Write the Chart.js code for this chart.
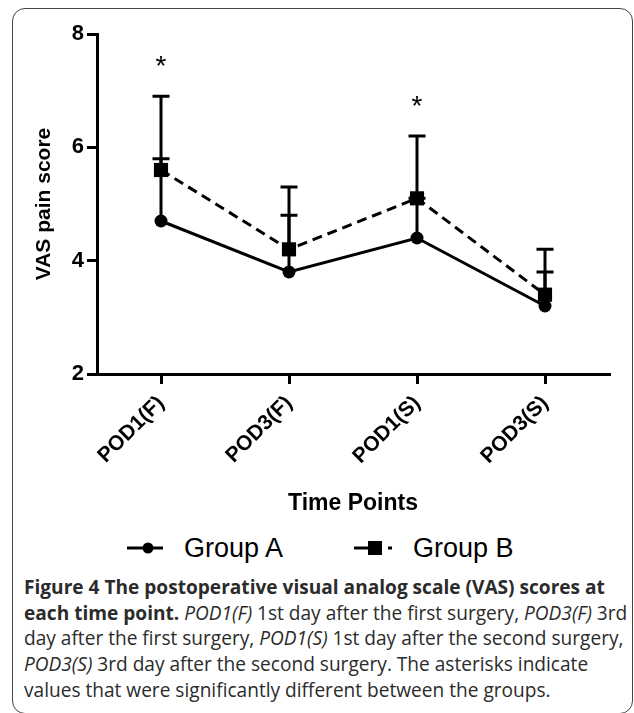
<!DOCTYPE html>
<html>
<head>
<meta charset="utf-8">
<script src="https://cdn.jsdelivr.net/npm/chart.js@4.4.1/dist/chart.umd.min.js"></script>
<style>
  html, body { margin: 0; padding: 0; background: #fff; }
  body { width: 634px; height: 713px; position: relative; overflow: hidden; }
  #frame {
    position: absolute; left: 12px; top: 8px; width: 621px; height: 706px;
    box-sizing: border-box; border: 1.5px solid #444; border-radius: 13px;
  }
  #vasChart { position: absolute; left: 0; top: 0; }
  #chart-legend {
    position: absolute; left: 127px; top: 530px; height: 36px;
    display: flex; align-items: center;
    font-family: "Liberation Sans", Arial, sans-serif; font-size: 27px; color: #000;
  }
  .legend-item { display: flex; align-items: center; margin-right: 71px; }
  .legend-item canvas { margin-right: 21px; }
  #caption {
    position: absolute; left: 24px; top: 575px;
    font-family: "Open Sans", "Noto Sans", sans-serif; font-size: 19.1px;
    line-height: 25.7px; color: #2b2b2b; white-space: nowrap;
  }
  #caption b { font-weight: 700; }
  #caption i { font-style: italic; }
</style>
</head>
<body>
<div id="frame"></div>
<canvas id="vasChart" width="634" height="525"></canvas>
<div id="chart-legend"></div>
<div id="caption">
  <b>Figure 4 The postoperative visual analog scale (VAS) scores at</b><br>
  <b>each time point.</b> <i>POD1(F)</i> 1st day after the first surgery, <i>POD3(F)</i> 3rd<br>
  day after the first surgery, <i>POD1(S)</i> 1st day after the second surgery,<br>
  <i>POD3(S)</i> 3rd day after the second surgery. The asterisks indicate<br>
  values that were significantly different between the groups.
</div>
<script>
// Values (means and upper SD bars)
const timePoints = ['POD1(F)', 'POD3(F)', 'POD1(S)', 'POD3(S)'];
const groupAMean = [4.7, 3.8, 4.4, 3.2];
const groupASd = [1.1, 1.0, 0.7, 0.6];
const groupBMean = [5.6, 4.2, 5.1, 3.4];
const groupBSd = [1.3, 1.1, 1.1, 0.8];
const significant = [true, false, true, false];
const yTickValues = [2, 4, 6, 8];

const axisFont = "'Liberation Sans', Arial, sans-serif";

// upper-only error bars, drawn under the markers
const errorBarPlugin = {
    id: 'errorBars',
    beforeDatasetsDraw(chart) {
        const ctx = chart.ctx;
        const yScale = chart.scales.y;
        ctx.save();
        ctx.strokeStyle = '#000';
        ctx.lineWidth = 3;
        chart.data.datasets.forEach((ds, di) => {
            const meta = chart.getDatasetMeta(di);
            meta.data.forEach((pt, i) => {
                const top = yScale.getPixelForValue(ds.data[i] + ds.sd[i]);
                const base = yScale.getPixelForValue(ds.data[i]);
                ctx.beginPath();
                ctx.moveTo(pt.x, base);
                ctx.lineTo(pt.x, top);
                ctx.moveTo(pt.x - 8.5, top);
                ctx.lineTo(pt.x + 8.5, top);
                ctx.stroke();
            });
        });
        ctx.restore();
    }
};

// asterisks above the higher bar where groups differ
const asteriskPlugin = {
    id: 'asterisks',
    afterDatasetsDraw(chart) {
        const ctx = chart.ctx;
        const yScale = chart.scales.y;
        const meta = chart.getDatasetMeta(1);
        ctx.save();
        ctx.fillStyle = '#000';
        ctx.font = '28px ' + axisFont;
        ctx.textAlign = 'center';
        ctx.textBaseline = 'alphabetic';
        significant.forEach((sig, i) => {
            if (!sig) return;
            const top = yScale.getPixelForValue(groupBMean[i] + groupBSd[i]);
            ctx.fillText('*', meta.data[i].x, top - 21);
        });
        ctx.restore();
    }
};

const ctx = document.getElementById('vasChart').getContext('2d');
const vasChart = new Chart(ctx, {
    type: 'line',
    data: {
        labels: timePoints,
        datasets: [
            {
                label: 'Group A',
                data: groupAMean,
                sd: groupASd,
                borderColor: '#000',
                backgroundColor: '#000',
                borderWidth: 3,
                pointStyle: 'circle',
                pointRadius: 6.5,
                pointBackgroundColor: '#000',
                pointBorderWidth: 0,
                tension: 0
            },
            {
                label: 'Group B',
                data: groupBMean,
                sd: groupBSd,
                borderColor: '#000',
                backgroundColor: '#000',
                borderWidth: 3,
                borderDash: [10, 6],
                pointStyle: 'rect',
                pointRadius: 10,
                pointBackgroundColor: '#000',
                pointBorderWidth: 0,
                tension: 0
            }
        ]
    },
    options: {
        responsive: false,
        animation: false,
        devicePixelRatio: 1,
        layout: { padding: { top: 34, right: 25, bottom: 6, left: 0 } },
        plugins: {
            legend: { display: false },
            tooltip: { enabled: false }
        },
        scales: {
            x: {
                type: 'category',
                offset: true,
                grid: {
                    display: true,
                    drawOnChartArea: false,
                    drawTicks: true,
                    tickLength: 10,
                    lineWidth: 3,
                    color: '#000',
                    offset: false
                },
                border: { display: true, width: 3, color: '#000' },
                ticks: {
                    color: '#000',
                    font: { family: axisFont, size: 21, weight: 'bold' },
                    minRotation: 45,
                    maxRotation: 45,
                    padding: 7
                },
                title: {
                    display: true,
                    text: 'Time Points',
                    color: '#000',
                    font: { family: axisFont, size: 23, weight: 'bold' },
                    padding: { top: 0, bottom: 2 }
                },
                afterFit(scale) { scale.height = 145; }
            },
            y: {
                min: 2,
                max: 8,
                grid: {
                    display: true,
                    drawOnChartArea: false,
                    drawTicks: true,
                    tickLength: 10,
                    lineWidth: 3,
                    color: '#000'
                },
                border: { display: true, width: 3, color: '#000' },
                ticks: {
                    color: '#000',
                    font: { family: axisFont, size: 22, weight: 'bold' },
                    padding: 3
                },
                afterBuildTicks(scale) {
                    scale.ticks = yTickValues.map(v => ({ value: v }));
                },
                title: {
                    display: true,
                    text: 'VAS pain score',
                    color: '#000',
                    font: { family: axisFont, size: 21, weight: 'bold' },
                    padding: { top: 32, bottom: 0 }
                },
                afterFit(scale) { scale.width = 97; }
            }
        }
    },
    plugins: [errorBarPlugin, asteriskPlugin]
});

function drawLegendIcon(canvas, ds) {
    const c = canvas.getContext('2d');
    const mid = canvas.height / 2;
    c.strokeStyle = '#000';
    c.fillStyle = '#000';
    c.lineWidth = 3;
    if (ds.pointStyle === 'circle') {
        c.beginPath();
        c.moveTo(0, mid);
        c.lineTo(canvas.width, mid);
        c.stroke();
        c.beginPath();
        c.arc(canvas.width / 2 + 3, mid, 5.5, 0, Math.PI * 2);
        c.fill();
    } else {
        c.beginPath();
        c.moveTo(0, mid);
        c.lineTo(17, mid);
        c.stroke();
        c.fillRect(14, mid - 7, 14, 14);
        c.fillRect(34, mid - 1.5, 4, 3);
    }
}

function renderCustomLegend(chart) {
    const legendContainer = document.getElementById('chart-legend');
    legendContainer.innerHTML = '';
    chart.data.datasets.forEach((ds, index) => {
        const itemDiv = document.createElement('div');
        itemDiv.className = 'legend-item';

        const icon = document.createElement('canvas');
        icon.width = index === 0 ? 36 : 38;
        icon.height = 20;
        drawLegendIcon(icon, ds);

        const textSpan = document.createElement('span');
        textSpan.innerText = ds.label;

        itemDiv.appendChild(icon);
        itemDiv.appendChild(textSpan);
        legendContainer.appendChild(itemDiv);
    });
}

renderCustomLegend(vasChart);
</script>
</body>
</html>
